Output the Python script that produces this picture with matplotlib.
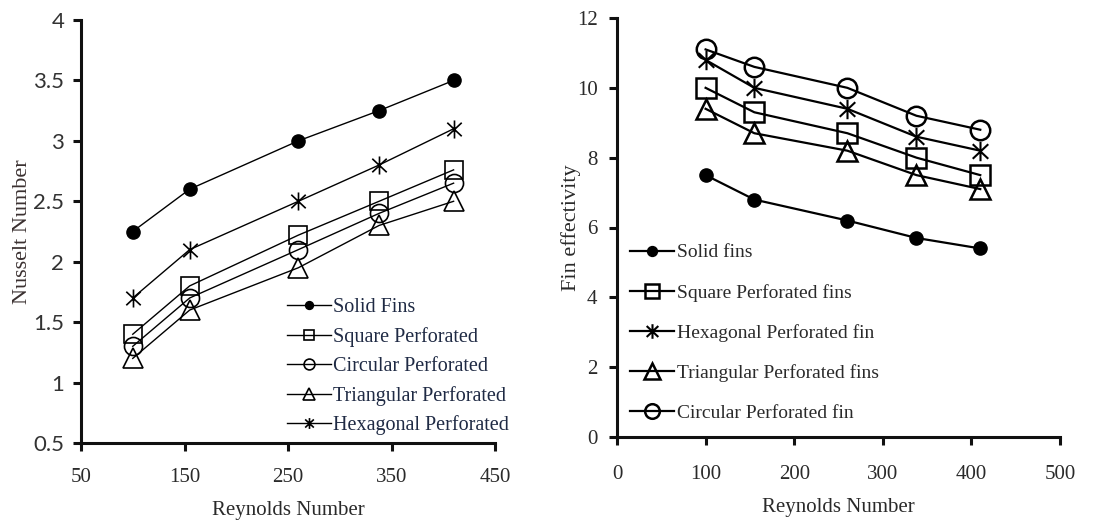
import matplotlib
matplotlib.use('Agg')
import matplotlib.pyplot as plt
from matplotlib.path import Path

re_vals = [100, 155, 260, 338, 410]

nu_solid = [2.25, 2.6, 3.0, 3.25, 3.5]
nu_square = [1.4, 1.8, 2.22, 2.5, 2.76]
nu_circular = [1.3, 1.7, 2.1, 2.4, 2.65]
nu_triangular = [1.2, 1.6, 1.95, 2.3, 2.5]
nu_hexagonal = [1.7, 2.1, 2.5, 2.8, 3.1]

eff_solid = [7.5, 6.8, 6.2, 5.7, 5.4]
eff_square = [10.0, 9.3, 8.7, 8.0, 7.5]
eff_hexagonal = [10.8, 10.0, 9.4, 8.6, 8.2]
eff_triangular = [9.4, 8.7, 8.2, 7.5, 7.1]
eff_circular = [11.1, 10.6, 10.0, 9.2, 8.8]

serif = 'Liberation Serif'
sans = 'Lato'
txt = '#2a2a2a'
# asterisk: vertical bar plus an X
star = Path([(0, -1), (0, 1), (-0.8, -0.75), (0.8, 0.75), (-0.8, 0.75), (0.8, -0.75)],
            [Path.MOVETO, Path.LINETO, Path.MOVETO, Path.LINETO, Path.MOVETO, Path.LINETO])

fig = plt.figure(figsize=(10.93, 5.2), dpi=100)
W, H = 1093, 520

# ---- left: Nusselt number
ax1 = fig.add_axes([81 / W, 1 - 443 / H, (495 - 81) / W, (443 - 20) / H])
lw, ms, mss = 1.0, 13, 9.5
ax1.plot(re_vals, nu_solid, '-', c='k', lw=lw, marker='o', ms=mss, label='Solid Fins')
ax1.plot(re_vals, nu_square, '-', c='k', lw=lw, marker='s', ms=ms, mfc='none', mew=1.2, label='Square Perforated')
ax1.plot(re_vals, nu_circular, '-', c='k', lw=lw, marker='o', ms=ms, mfc='none', mew=1.2, label='Circular Perforated')
ax1.plot(re_vals, nu_triangular, '-', c='k', lw=lw, marker='^', ms=ms + 1, mfc='none', mew=1.2, label='Triangular Perforated')
ax1.plot(re_vals, nu_hexagonal, '-', c='k', lw=lw, marker=star, ms=ms, mew=1.2, label='Hexagonal Perforated')
ax1.set_xlim(50, 450)
ax1.set_ylim(0.5, 4)
ax1.set_xticks([50, 150, 250, 350, 450])
ax1.set_yticks([0.5, 1, 1.5, 2, 2.5, 3, 3.5, 4])
ax1.set_yticklabels(['0.5', '1', '1.5', '2', '2.5', '3', '3.5', '4'], family=sans, fontsize=16, color='#333333')
ax1.set_xticklabels(['50', '150', '250', '350', '450'], family=serif, fontsize=15, color=txt)
ax1.set_xlabel('Reynolds Number', family=serif, fontsize=15, color=txt, labelpad=10)
ax1.set_ylabel('Nusselt Number', family=serif, fontsize=16, color='#3a3030', labelpad=1)
ax1.tick_params(axis='x', pad=12)
ax1.tick_params(axis='y', pad=6)
leg1 = ax1.legend(loc='upper left', bbox_to_anchor=(277 / W, 1 - 288 / H), bbox_transform=fig.transFigure,
                  frameon=False, prop={'family': serif, 'size': 14.5}, handlelength=2.2,
                  handletextpad=0.1, labelspacing=0.49, borderpad=0, markerscale=0.6)
for t in leg1.get_texts():
    t.set_color('#1f2a44')

# ---- right: fin effectivity
ax2 = fig.add_axes([617 / W, 1 - 437 / H, (1060 - 617) / W, (437 - 18) / H])
lw2, ms2, mss2 = 1.6, 14, 9.5
ax2.plot(re_vals, eff_solid, '-', c='k', lw=lw2, marker='o', ms=mss2, label='Solid fins')
ax2.plot(re_vals, eff_square, '-', c='k', lw=lw2, marker='s', ms=ms2, mfc='none', mew=1.8, label='Square Perforated fins')
ax2.plot(re_vals, eff_hexagonal, '-', c='k', lw=lw2, marker=star, ms=ms2, mew=1.5, label='Hexagonal Perforated fin')
ax2.plot(re_vals, eff_triangular, '-', c='k', lw=lw2, marker='^', ms=ms2 + 1, mfc='none', mew=1.8, label='Triangular Perforated fins')
ax2.plot(re_vals, eff_circular, '-', c='k', lw=lw2, marker='o', ms=ms2, mfc='none', mew=1.8, label='Circular Perforated fin')
ax2.set_xlim(0, 500)
ax2.set_ylim(0, 12)
ax2.set_xticks([0, 100, 200, 300, 400, 500])
ax2.set_yticks([0, 2, 4, 6, 8, 10, 12])
ax2.set_xticklabels(['0', '100', '200', '300', '400', '500'], family=serif, fontsize=15, color=txt)
ax2.set_yticklabels(['0', '2', '4', '6', '8', '10', '12'], family=serif, fontsize=15, color=txt)
ax2.set_xlabel('Reynolds Number', family=serif, fontsize=15, color=txt, labelpad=10)
ax2.set_ylabel('Fin effectivity', family=serif, fontsize=16, color=txt, labelpad=-3)
ax2.tick_params(axis='x', pad=14)
ax2.tick_params(axis='y', pad=8)
leg2 = ax2.legend(loc='upper left', bbox_to_anchor=(620 / W, 1 - 234 / H), bbox_transform=fig.transFigure,
                  frameon=False, prop={'family': serif, 'size': 14}, handlelength=2.3,
                  handletextpad=0.15, labelspacing=1.15, borderpad=0, markerscale=0.75)
for t in leg2.get_texts():
    t.set_color(txt)

for ax in (ax1, ax2):
    for s in ('top', 'right'):
        ax.spines[s].set_visible(False)
    for s in ('left', 'bottom'):
        ax.spines[s].set_linewidth(2.2)
        ax.spines[s].set_color('#111111')
    ax.tick_params(direction='out', length=6, width=2.2, color='#111111')

fig.savefig('out.png', dpi=100)
